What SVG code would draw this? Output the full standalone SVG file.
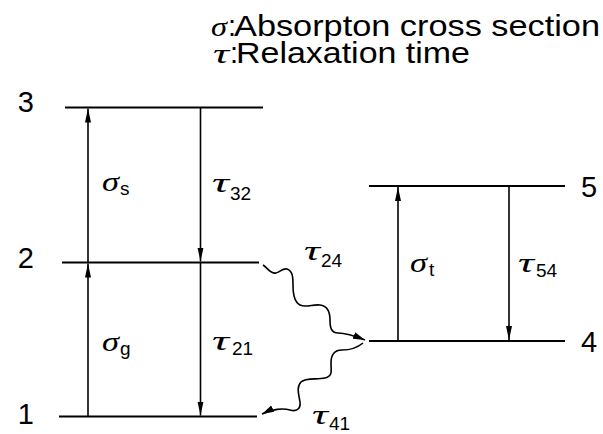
<svg xmlns="http://www.w3.org/2000/svg" width="603" height="434" viewBox="0 0 603 434">
<style>
.lvl{stroke:#000;stroke-width:1.8;fill:none}
.arr{stroke:#000;stroke-width:1.6;fill:none}
.wave{stroke:#000;stroke-width:1.6;fill:none}
.sans{font-family:"Liberation Sans",Arial,sans-serif;font-size:29px;fill:#000}
.num{font-family:"Liberation Sans",Arial,sans-serif;font-size:29px;fill:#000}
.gk{font-family:"Liberation Serif","Times New Roman",serif;font-style:italic;font-size:28px;fill:#000}
.sub{font-family:"Liberation Sans",Arial,sans-serif;font-size:19px;font-style:normal;fill:#000}
</style>
<defs>
<marker id="ah" markerUnits="userSpaceOnUse" markerWidth="15" markerHeight="7" refX="14" refY="3" orient="auto">
<path d="M0,0 L14,3 L0,6 z" fill="#000"/>
</marker>
<marker id="wh" markerUnits="userSpaceOnUse" markerWidth="14" markerHeight="8" refX="12" refY="3.5" orient="auto">
<path d="M0,0 L12,3.5 L0,7 z" fill="#000"/>
</marker>
</defs>
<g id="legend">
<text class="sans" y="36"><tspan class="gk" x="211" textLength="16" lengthAdjust="spacingAndGlyphs">σ</tspan><tspan x="228">:</tspan><tspan x="234" textLength="366" lengthAdjust="spacingAndGlyphs">Absorpton cross section</tspan></text>
<text class="sans" y="63"><tspan class="gk" x="213" textLength="16" lengthAdjust="spacingAndGlyphs">τ</tspan><tspan x="230">:</tspan><tspan x="236" textLength="234" lengthAdjust="spacingAndGlyphs">Relaxation time</tspan></text>
</g>
<g id="level3">
<line class="lvl" x1="65" y1="107.5" x2="263" y2="107.5"/>
<text class="num" x="34" y="112" text-anchor="end">3</text>
</g>
<g id="level2">
<line class="lvl" x1="62" y1="262.5" x2="259" y2="262.5"/>
<text class="num" x="34" y="268" text-anchor="end">2</text>
</g>
<g id="level1">
<line class="lvl" x1="59" y1="416.5" x2="257" y2="416.5"/>
<text class="num" x="34" y="424" text-anchor="end">1</text>
</g>
<g id="level5">
<line class="lvl" x1="369" y1="186" x2="565" y2="186"/>
<text class="num" x="581" y="197">5</text>
</g>
<g id="level4">
<line class="lvl" x1="369" y1="341" x2="565" y2="341"/>
<text class="num" x="581" y="352">4</text>
</g>
<g id="connectors">
<line class="arr" x1="88" y1="262.5" x2="88" y2="108.5" marker-end="url(#ah)"/>
<line class="arr" x1="88" y1="416.5" x2="88" y2="263.5" marker-end="url(#ah)"/>
<line class="arr" x1="200.5" y1="107.5" x2="200.5" y2="261.5" marker-end="url(#ah)"/>
<line class="arr" x1="200.5" y1="262.5" x2="200.5" y2="415.5" marker-end="url(#ah)"/>
<line class="arr" x1="398" y1="341" x2="398" y2="187" marker-end="url(#ah)"/>
<line class="arr" x1="509" y1="186" x2="509" y2="340" marker-end="url(#ah)"/>
<path class="wave" d="M263,265 C268,268 270,274 276,273 C281,272 282,268 287,269 C293,271 293,278 293,285 C293,293 294,302 300,305 C306,308 313,304 320,305 C328,306 330,312 330,320 C330,327 331,333 338,333 C346,333 355,336 365,340" marker-end="url(#wh)"/>
<path class="wave" d="M363,343 C357,348 350,350 342,350 C334,350 331,355 331,363 C331,371 333,376 325,378 C317,380 306,377 301,382 C296,387 299,395 300,402 C301,409 296,412 290,410 C283,408 272,409 262,414" marker-end="url(#wh)"/>
</g>
<g id="labels">
<text class="gk" y="191"><tspan x="102" textLength="17" lengthAdjust="spacingAndGlyphs">σ</tspan><tspan class="sub" x="120" y="195">s</tspan></text>
<text class="gk" y="192"><tspan x="212" textLength="17" lengthAdjust="spacingAndGlyphs">τ</tspan><tspan class="sub" x="230" y="200">32</tspan></text>
<text class="gk" y="351"><tspan x="102" textLength="17" lengthAdjust="spacingAndGlyphs">σ</tspan><tspan class="sub" x="120" y="355">g</tspan></text>
<text class="gk" y="350"><tspan x="212" textLength="17" lengthAdjust="spacingAndGlyphs">τ</tspan><tspan class="sub" x="232" y="355">21</tspan></text>
<text class="gk" y="260"><tspan x="304" textLength="16" lengthAdjust="spacingAndGlyphs">τ</tspan><tspan class="sub" x="321" y="267">24</tspan></text>
<text class="gk" y="424"><tspan x="312" textLength="16" lengthAdjust="spacingAndGlyphs">τ</tspan><tspan class="sub" x="329" y="430">41</tspan></text>
<text class="gk" y="272"><tspan x="410" textLength="17" lengthAdjust="spacingAndGlyphs">σ</tspan><tspan class="sub" x="429" y="276">t</tspan></text>
<text class="gk" y="272"><tspan x="518" textLength="16" lengthAdjust="spacingAndGlyphs">τ</tspan><tspan class="sub" x="536" y="277">54</tspan></text>
</g>
</svg>
